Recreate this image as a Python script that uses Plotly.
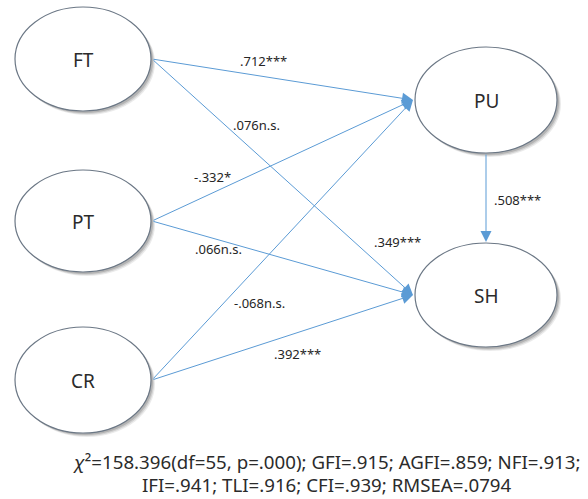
import plotly.graph_objects as go

# ---- data ----
nodes = ["FT", "PT", "CR", "PU", "SH"]
edge_from = ["FT", "FT", "PT", "PT", "CR", "CR", "PU"]
edge_to = ["PU", "SH", "PU", "SH", "PU", "SH", "SH"]
label_texts = [".712***", ".076n.s.", "-.332*", ".066n.s.", "-.068n.s.", ".392***", ".349***", ".508***"]
fit_line1 = "<i>χ</i>²=158.396(df=55, p=.000); GFI=.915; AGFI=.859; NFI=.913;"
fit_line2 = "IFI=.941; TLI=.916; CFI=.939; RMSEA=.0794"

# ---- layout (pixel positions of the diagram) ----
W, H = 588, 499
node_pos = {"FT": (83, 59), "PT": (83, 221), "CR": (83, 380), "PU": (486, 100), "SH": (486, 295)}
node_r = {"FT": (68, 52), "PT": (68, 51), "CR": (68, 53), "PU": (71, 53), "SH": (71, 52)}
label_pos = [(263, 61), (256, 125), (212, 177), (218, 249), (259, 303), (297, 354), (397, 242), (517, 200)]

line_col = "#5b9bd5"
ell_col = "#6b7785"

fig = go.Figure()
fig.add_trace(go.Scatter(x=[0, W], y=[0, H], mode="markers", marker=dict(opacity=0), hoverinfo="skip", showlegend=False))

shapes = []
for n in nodes:
    cx, cy = node_pos[n]
    rx, ry = node_r[n]
    for off, op in [(4, 0.10), (3, 0.15), (2, 0.2)]:
        shapes.append(dict(type="circle", xref="x", yref="y", x0=cx - rx + off, x1=cx + rx + off,
                           y0=cy - ry + off, y1=cy + ry + off, line=dict(width=0),
                           fillcolor=f"rgba(60,60,60,{op})", layer="below"))
    shapes.append(dict(type="circle", xref="x", yref="y", x0=cx - rx, x1=cx + rx,
                       y0=cy - ry, y1=cy + ry, line=dict(color=ell_col, width=1.2),
                       fillcolor="white", layer="below"))

annotations = []
for s, t in zip(edge_from, edge_to):
    sx, sy = node_pos[s]
    tx, ty = node_pos[t]
    srx, sry = node_r[s]
    trx, try_ = node_r[t]
    if s == "PU" and t == "SH":
        x0, y0 = sx, sy + sry
        x1, y1 = tx, ty - try_ - 1
    else:
        x0, y0 = sx + srx + 1, sy
        x1, y1 = tx - trx - 2, ty
    annotations.append(dict(x=x1, y=y1, ax=x0, ay=y0, xref="x", yref="y", axref="x", ayref="y",
                            text="", showarrow=True, arrowhead=2, arrowsize=2.2, arrowwidth=1,
                            arrowcolor=line_col, standoff=0))

for n in nodes:
    cx, cy = node_pos[n]
    annotations.append(dict(x=cx, y=cy + 1, xref="x", yref="y", text=n, showarrow=False,
                            font=dict(family="Noto Sans", size=19, color="#2b2b2b")))

for txt, (lx, ly) in zip(label_texts, label_pos):
    annotations.append(dict(x=lx, y=ly, xref="x", yref="y", text=txt, showarrow=False,
                            font=dict(family="Noto Sans", size=13, color="#262626")))

for txt, ly in [(fit_line1, 461), (fit_line2, 484)]:
    annotations.append(dict(x=327, y=ly, xref="x", yref="y", text=txt,
                            showarrow=False, align="center",
                            font=dict(family="Noto Sans", size=18.7, color="#2b2b2b")))

fig.update_layout(
    width=W, height=H, margin=dict(l=0, r=0, t=0, b=0),
    paper_bgcolor="white", plot_bgcolor="white",
    xaxis=dict(range=[0, W], visible=False, fixedrange=True),
    yaxis=dict(range=[H, 0], visible=False, fixedrange=True),
    shapes=shapes, annotations=annotations, showlegend=False,
)
fig.write_html("out.html", config={"displayModeBar": False},
               post_script="document.body.style.margin='0';document.body.style.overflow='hidden';")
